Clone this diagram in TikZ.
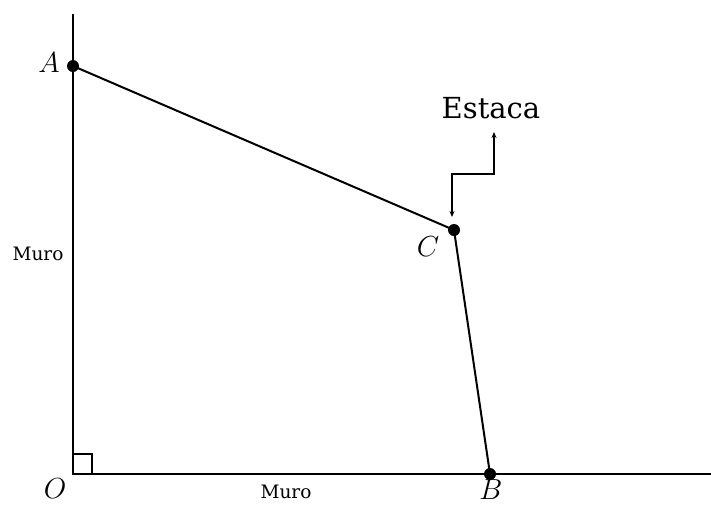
\documentclass[tikz,border=0pt]{standalone}
\usepackage{fix-cm}
\usepackage{fontspec}
\newfontfamily\labfont{DejaVu Serif}
\usetikzlibrary{arrows.meta}
\begin{document}
\begin{tikzpicture}[x=1pt,y=-1pt,
  wall/.style={line width=2.2pt},
  rod/.style={line width=2pt},
  dot/.style={circle,fill=black,inner sep=0pt,minimum size=12pt},
  ptlabel/.style={inner sep=0pt,font=\fontsize{29}{34}\selectfont},
  murolabel/.style={inner sep=0pt,font=\labfont\fontsize{18.5}{22}\selectfont},
  estlabel/.style={inner sep=0pt,font=\labfont\fontsize{29}{34}\selectfont},
  pointer/.style={line width=1.6pt,{Stealth[length=6pt,width=5pt]}-{Stealth[length=6pt,width=5pt]}}]
\useasboundingbox (0,0) rectangle (711,504);
\coordinate (O) at (73,474);
\coordinate (top) at (73,14);
\coordinate (right) at (711,474);
\node[dot] (A) at (73,66) {};
\node[dot] (C) at (454,230) {};
\node[dot] (B) at (490,474) {};
\draw[wall] (top) -- (O) -- (right);
\draw[line width=1.6pt] (73,454) rectangle (92,474);
\draw[rod] (A.center) -- (C.center) -- (B.center);
\coordinate (p1) at (452,217);
\coordinate (p2) at (452,174);
\coordinate (p3) at (494,174);
\coordinate (p4) at (494,132);
\draw[pointer] (p1) -- (p2) -- (p3) -- (p4);
\node[ptlabel] (lA) at (49,63) {$A$};
\node[ptlabel] (lC) at (428,247) {$C$};
\node[ptlabel] (lB) at (491,490) {$B$};
\node[ptlabel] (lO) at (55,489) {$O$};
\node[estlabel] (est) at (491,108) {Estaca};
\node[murolabel] (m1) at (38,254) {Muro};
\node[murolabel] (m2) at (286,492) {Muro};
\end{tikzpicture}
\end{document}
